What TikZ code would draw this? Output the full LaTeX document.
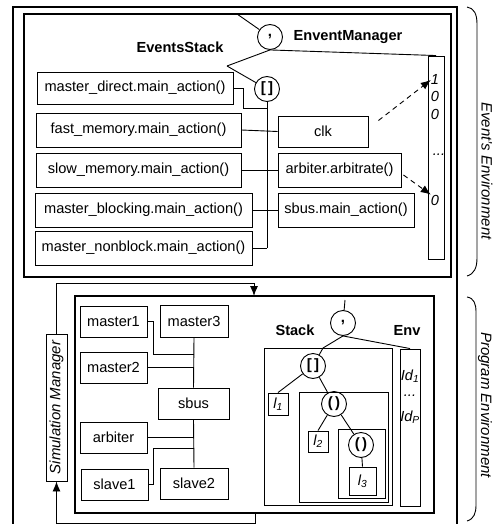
\documentclass[tikz,border=0pt]{standalone}
\usepackage{fontspec}
\setmainfont{Liberation Sans}
\usetikzlibrary{arrows.meta,calc}
\newcommand{\mkbox}[6]{\node[#1, minimum width=#4pt-#2pt, minimum height=#5pt-#3pt] (#6) at ({(#2+#4)/2},{(#3+#5)/2})}
\begin{document}
\begin{tikzpicture}[x=1pt,y=-1pt,
  every node/.style={font=\fontsize{14.6}{17}\selectfont},
  box/.style={draw, line width=0.9pt, inner sep=0pt},
  tframe/.style={draw, line width=1.1pt, inner sep=0pt},
  dframe/.style={draw, double, double distance=1.3pt, line width=0.7pt, inner sep=0pt},
  op/.style={draw, circle, line width=0.9pt, inner sep=0pt, minimum size=25pt, font=\fontsize{15}{17}\selectfont\bfseries},
  lab/.style={font=\fontsize{14.6}{17}\selectfont\bfseries},
  itf/.style={font=\fontsize{14.6}{17}\selectfont\itshape, inner sep=0pt},
  conn/.style={line width=0.9pt},
  arr/.style={line width=0.9pt, -{Latex[length=10pt,width=8pt]}},
  darr/.style={line width=0.9pt, dash pattern=on 5pt off 4pt, -{Latex[length=10pt,width=8pt]}},
]
\useasboundingbox (0,0) rectangle (496,524);

% ---------- outer frame ----------
\draw[line width=1.1pt] (13,526) -- (13,7) -- (457,7) -- (457,526);

% ---------- events environment ----------
\mkbox{tframe}{24}{14}{451}{277}{evf} {};
\mkbox{dframe}{32}{66}{415}{271}{evs} {};
\mkbox{box}{428}{56}{444}{259}{eve} {};

\node[op] (em) at (270,37) {\raisebox{3pt}{,}};
\node[lab] (esl) at (180,47) {EventsStack};
\node[lab] (eml) at (348,37) {EnventManager};

\coordinate (emtop) at (237,14);
\coordinate (estop) at (227,66);
\draw[conn] (emtop) -- (em);
\draw[conn] (em.south) -- (estop);
\draw[conn] (em.south) -- (eve.north);

\node[op] (lb) at (267,89) {[\,]};
\draw[conn] (estop) -- (lb);
\coordinate (bend) at (267,248);
\coordinate (j1) at (267,108);
\draw[conn] (lb) -- (bend);

\mkbox{box}{37}{72}{233}{104}{md} {master\_direct.main\_action()};
\mkbox{box}{36}{113}{241}{147}{fm} {fast\_memory.main\_action()\hspace{8pt}};
\mkbox{box}{36}{153}{241}{187}{sm} {slow\_memory.main\_action()\hspace{8pt}};
\mkbox{box}{35}{193}{252}{227}{mb} {master\_blocking.main\_action()};
\mkbox{box}{35}{231}{252}{265}{mn} {master\_nonblock.main\_action()};

\mkbox{box}{278}{116}{368}{147}{clk} {clk};
\mkbox{box}{278}{153}{401}{187}{arb} {arbiter.arbitrate()};
\mkbox{box}{278}{193}{414}{227}{sbm} {sbus.main\_action()};

\draw[conn] (md.east) -- ++(10,0) |- (j1);
\draw[conn] (fm.east) -- (clk.west);
\draw[conn] (sm.east) -- (arb.west);
\draw[conn] (mb.east) -- (sbm.west);
\draw[conn] (mn.east) -- (bend);

\node[itf, anchor=base] (e1) at (435,85) {1};
\node[itf, anchor=base] (e2) at (435,102) {0};
\node[itf, anchor=base] (e3) at (435,119) {0};
\node[itf, anchor=base] (edots) at (439,155) {...};
\node[itf, anchor=base] (e4) at (435,205) {0};

\draw[darr] ($(clk.east)+(10,-11)$) -- (e1.west);
\draw[darr] ($(arb.east)+(2,5)$) -- (e4.north west);

% ---------- program environment ----------
\mkbox{tframe}{75}{296}{434}{513}{prog} {};
\mkbox{dframe}{258}{303}{427}{509}{stk} {};
\mkbox{box}{46}{334}{67}{481}{sim} {\rotatebox{90}{\fontsize{15}{18}\selectfont\itshape Simulation Manager}};

\coordinate (c1) at (254,283);
\coordinate (loopin) at (254,296);
\draw[arr] (sim.north) |- (c1) -- (loopin);
\coordinate (loopout) at (255,513);
\coordinate (c2) at (255,523);
\draw[arr] (loopout) -- (c2) -| (sim.south);

\mkbox{box}{80}{306}{147}{337}{m1} {master1};
\mkbox{box}{160}{305}{228}{337}{m3} {master3};
\mkbox{box}{80}{352}{147}{383}{m2} {master2};
\mkbox{box}{158}{388}{229}{419}{sbus} {sbus};
\mkbox{box}{80}{422}{147}{453}{arbt} {arbiter};
\mkbox{box}{81}{469}{148}{500}{s1} {slave1};
\mkbox{box}{160}{468}{228}{499}{s2} {slave2};

\coordinate (b1) at (194,354);
\coordinate (b4) at (194,448);
\draw[conn] (m3.south) -- (sbus.north);
\draw[conn] (sbus.south) -- (s2.north);
\draw[conn] (m1.east) -- ++(6,0) |- (b1);
\draw[conn] (m2.east) -- (m2.east -| sbus.north);
\draw[conn] (arbt.east) -- (arbt.east -| sbus.north);
\draw[conn] (s1.east) -- ++(5,0) |- (b4);

\node[op] (pc) at (343,323) {\raisebox{3pt}{,}};
\node[lab] (stl) at (295,330) {Stack};
\node[lab] (envl) at (407,330) {Env};

\coordinate (pctop) at (345,300);
\coordinate (sstop) at (323,348);
\mkbox{box}{264}{348}{392}{505}{ssb} {};
\mkbox{box}{400}{349}{420}{506}{penv} {};
\draw[conn] (pctop) -- (pc);
\draw[conn] (pc.south) -- (sstop);
\draw[conn] (pc.south) -- (penv.north);

\node[op] (pl) at (313,366) {[\,]};
\draw[conn] (sstop) -- (pl);
\mkbox{box}{268}{393}{288}{415}{l1} {\itshape l\textsubscript{1}};
\mkbox{box}{299}{392}{388}{502}{bx2} {};
\node[op] (p2) at (334,404) {(\,)};
\draw[conn] (pl) -- (l1.north);
\draw[conn] (pl) -- (p2);

\mkbox{box}{308}{431}{328}{452}{l2} {\itshape l\textsubscript{2}};
\mkbox{box}{338}{429}{385}{498}{bx3} {};
\node[op] (p3) at (361,445) {(\,)};
\draw[conn] (p2) -- (l2.north);
\draw[conn] (p2) -- (p3);
\mkbox{box}{349}{467}{376}{495}{l3} {\itshape l\textsubscript{3}};
\draw[conn] (p3) -- (l3.north);

\node[itf] (id1) at (410,376) {Id\textsubscript{1}};
\node[itf] (iddots) at (410,396) {...};
\node[itf] (idp) at (410,417) {Id\textsubscript{P}};

% ---------- braces ----------
\draw[conn] (467,7) .. controls (474,8) and (477,14) .. (477,24) -- (477,258) .. controls (477,268) and (474,274) .. (467,276);
\draw[conn] (467,297) .. controls (474,298) and (476,304) .. (476,312) -- (476,505) .. controls (476,513) and (474,519) .. (467,521);
\node[rotate=-90, font=\fontsize{15}{18}\selectfont\itshape] (evlab) at (487,171) {Event's Environment};
\node[rotate=-90, font=\fontsize{15}{18}\selectfont\itshape] (prlab) at (485,405) {Program Environment};
\end{tikzpicture}
\end{document}
